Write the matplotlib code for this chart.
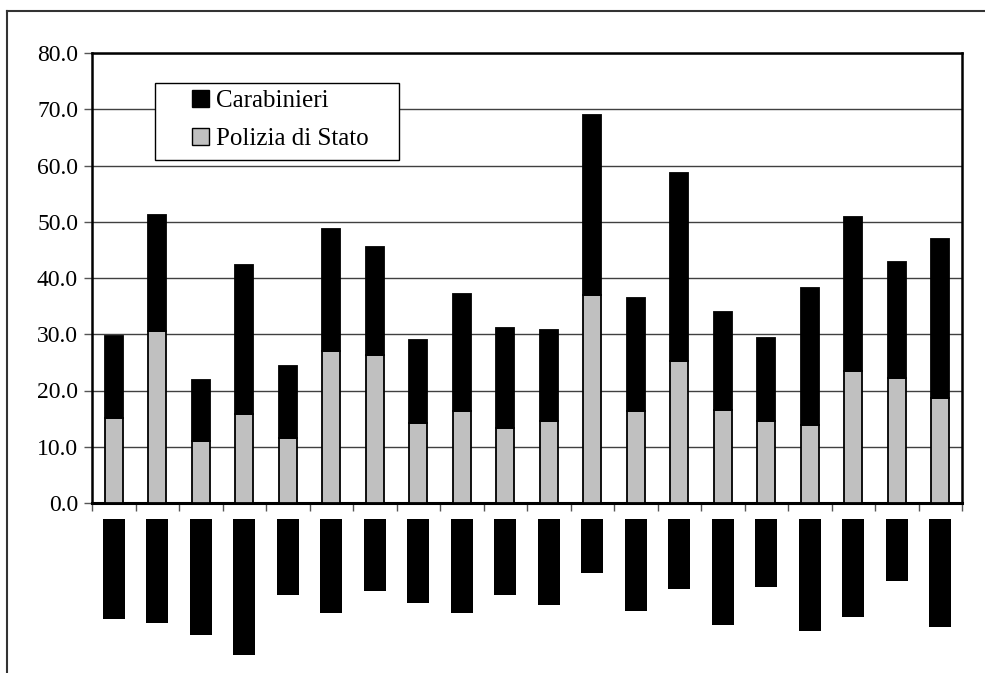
import matplotlib
matplotlib.use("Agg")
import matplotlib.pyplot as plt
from matplotlib.patches import Patch, Rectangle
from matplotlib.lines import Line2D
import numpy as np

plt.rcParams['font.family'] = ['Liberation Serif', 'DejaVu Serif']

# Data
n_regions = 20
polizia = [15.2, 30.5, 11.0, 15.9, 11.6, 27.0, 26.3, 14.2, 16.3, 13.4,
           14.5, 37.0, 16.3, 25.2, 16.6, 14.5, 13.8, 23.4, 22.3, 18.7]
totale = [29.7, 51.2, 21.8, 42.4, 24.3, 48.8, 45.5, 28.9, 37.1, 31.1,
          30.7, 69.0, 36.4, 58.7, 34.0, 29.3, 38.2, 50.9, 42.8, 47.0]
carabinieri = [t - p for t, p in zip(totale, polizia)]
lower_values = [17.8, 18.5, 20.6, 24.2, 13.5, 16.7, 12.8, 14.9, 16.7, 13.5,
                15.3, 9.6, 16.4, 12.4, 18.8, 12.1, 19.9, 17.4, 11.0, 19.2]
yticks = [0, 10, 20, 30, 40, 50, 60, 70, 80]
ytick_labels = ["%.1f" % v for v in yticks]
legend_labels = ["Carabinieri", "Polizia di Stato"]

W, H = 985, 673
fig = plt.figure(figsize=(W / 100, H / 100), dpi=100)

def fx(px):
    return px / W

def fy(py):
    return 1 - py / H

# Outer frame (left and top lines)
fig.add_artist(Line2D([fx(7), fx(7)], [fy(11), fy(673)], color='#333333', lw=1.5))
fig.add_artist(Line2D([fx(7), fx(985)], [fy(11), fy(11)], color='#333333', lw=1.5))

# Upper axes
left, right, top, bottom = 92, 962, 53, 503
ax = fig.add_axes([fx(left), fy(bottom), fx(right - left), (bottom - top) / H])
x = np.arange(n_regions)
ax.bar(x, polizia, width=0.42, color='#c0c0c0', edgecolor='black', linewidth=1.3, zorder=3)
ax.bar(x, carabinieri, bottom=polizia, width=0.42, color='black', edgecolor='black',
       linewidth=1.3, zorder=3)
ax.set_xlim(-0.5, n_regions - 0.5)
ax.set_ylim(0, 80)
ax.set_yticks(yticks)
ax.set_yticklabels(ytick_labels, fontsize=17)
ax.yaxis.grid(True, color='#404040', linewidth=1.0, zorder=0)
ax.set_axisbelow(True)
ax.set_xticks([])
ax.set_xticks(np.arange(-0.5, n_regions, 1.0), minor=True)
ax.tick_params(axis='x', which='minor', direction='out', length=6, width=1, color='#555555')
ax.tick_params(axis='y', direction='out', length=6, width=1, color='#555555', pad=4)
for s in ['top', 'right', 'left']:
    ax.spines[s].set_linewidth(1.8)
    ax.spines[s].set_color('black')
ax.spines['bottom'].set_linewidth(2.2)
ax.spines['bottom'].set_color('black')

# Legend box
box = Rectangle((fx(155), fy(160)), fx(399 - 155), (160 - 83) / H,
                transform=fig.transFigure, facecolor='white', edgecolor='black',
                linewidth=1.0, zorder=5)
ax.add_artist(box)
box.set_clip_on(False)

handles = [Patch(facecolor='black', edgecolor='black', linewidth=1),
           Patch(facecolor='#c0c0c0', edgecolor='black', linewidth=1)]
leg = ax.legend(handles, legend_labels, loc='upper left',
                bbox_to_anchor=(fx(192), fy(90)), bbox_transform=fig.transFigure,
                fontsize=18, frameon=False, borderaxespad=0,
                handlelength=0.68, handleheight=0.68, handletextpad=0.28,
                borderpad=0, labelspacing=0.62)
leg.set_zorder(10)

# Lower axes (downward bars)
lt, lb = 519, 673
scale = (bottom - top) / 80.0
ax2 = fig.add_axes([fx(left), 0, fx(right - left), (lb - lt) / H])
ax2.bar(x, [-v for v in lower_values], width=0.5, color='black', linewidth=0)
ax2.set_xlim(-0.5, n_regions - 0.5)
ax2.set_ylim(-(lb - lt) / scale, 0)
ax2.axis('off')

fig.savefig('out.png', dpi=100)
